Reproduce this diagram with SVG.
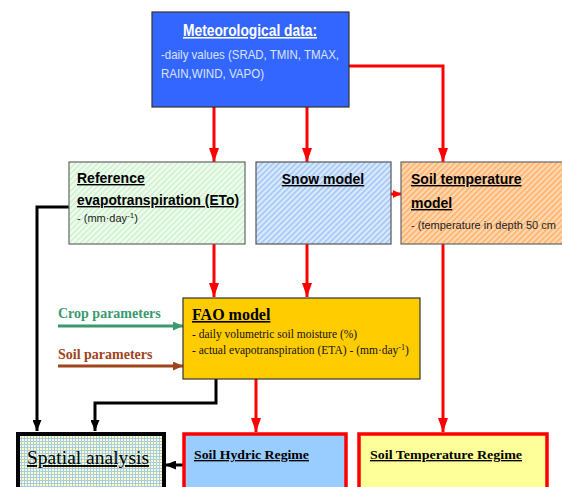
<svg xmlns="http://www.w3.org/2000/svg" width="562" height="487" viewBox="0 0 562 487">
<style>
.sans{font-family:"Liberation Sans",Arial,sans-serif}
.serif{font-family:"Liberation Serif","Times New Roman",serif}
.ttl{font-weight:bold;font-size:14px;text-decoration:underline;fill:#000}
.sub{font-size:11px;fill:#222}
.red{stroke:#ff0000;stroke-width:3;fill:none}
.blk{stroke:#000;stroke-width:3;fill:none}
</style>
<defs>
<pattern id="hG" width="4" height="4" patternUnits="userSpaceOnUse" patternTransform="rotate(45)">
<rect width="4" height="4" fill="#eefded"/><rect width="1.3" height="4" fill="#c9efc9"/>
</pattern>
<pattern id="hB" width="4" height="4" patternUnits="userSpaceOnUse" patternTransform="rotate(45)">
<rect width="4" height="4" fill="#d9e9ff"/><rect width="1.5" height="4" fill="#9fc3f3"/>
</pattern>
<pattern id="hO" width="4" height="4" patternUnits="userSpaceOnUse" patternTransform="rotate(45)">
<rect width="4" height="4" fill="#ffd8ae"/><rect width="1.5" height="4" fill="#ffae6a"/>
</pattern>
<pattern id="grid" width="3" height="3" patternUnits="userSpaceOnUse">
<rect width="3" height="3" fill="#ffffc8"/><path d="M0 0.5H3M0.5 0V3" stroke="#a8cce8" stroke-width="1"/>
</pattern>
<marker id="mR" viewBox="0 0 14 10" refX="14" refY="5" markerWidth="14" markerHeight="10" markerUnits="userSpaceOnUse" orient="auto">
<path d="M0 0L14 5L0 10z" fill="#ff0000"/>
</marker>
<marker id="mRs" viewBox="0 0 8 8" refX="8" refY="4" markerWidth="8" markerHeight="8" markerUnits="userSpaceOnUse" orient="auto">
<path d="M0 0L8 4L0 8z" fill="#ff0000"/>
</marker>
<marker id="mK" viewBox="0 0 11 9" refX="11" refY="4.5" markerWidth="11" markerHeight="9" markerUnits="userSpaceOnUse" orient="auto">
<path d="M0 0L11 4.5L0 9z" fill="#000"/>
</marker>
<marker id="mG" viewBox="0 0 10 9" refX="10" refY="4.5" markerWidth="10" markerHeight="9" markerUnits="userSpaceOnUse" orient="auto">
<path d="M0 0L10 4.5L0 9z" fill="#3a9a6e"/>
</marker>
<marker id="mBr" viewBox="0 0 10 9" refX="10" refY="4.5" markerWidth="10" markerHeight="9" markerUnits="userSpaceOnUse" orient="auto">
<path d="M0 0L10 4.5L0 9z" fill="#a0441c"/>
</marker>
</defs>

<g id="connectors">
<path class="red" d="M214 107V162" marker-end="url(#mR)"/>
<path class="red" d="M307 107V162" marker-end="url(#mR)"/>
<path class="red" d="M349 66H443V162" marker-end="url(#mR)"/>
<path class="red" d="M391 194H401" marker-end="url(#mRs)"/>
<path class="red" d="M214 244V297" marker-end="url(#mR)"/>
<path class="red" d="M307 244V297" marker-end="url(#mR)"/>
<path class="red" d="M256 379V432" marker-end="url(#mR)"/>
<path class="red" d="M443 244V432" marker-end="url(#mR)"/>
<path class="blk" d="M69 207H37V431" marker-end="url(#mK)"/>
<path class="blk" d="M216 379V403H95V431" marker-end="url(#mK)"/>
<path class="blk" d="M183 465H165" marker-end="url(#mK)"/>
<path d="M58 326H183" stroke="#3a9a6e" stroke-width="3" fill="none" marker-end="url(#mG)"/>
<path d="M58 366H183" stroke="#a0441c" stroke-width="3" fill="none" marker-end="url(#mBr)"/>
</g>

<g id="meteo">
<rect x="152" y="12" width="197" height="95" fill="#3366ff" stroke="#333" stroke-width="1.2"/>
<text x="250" y="36" text-anchor="middle" class="sans" font-weight="bold" font-size="16" fill="#fff" text-decoration="underline" textLength="134" lengthAdjust="spacingAndGlyphs">Meteorological data:</text>
<text x="161" y="59" class="sans" font-size="13.5" fill="#dbe4ff" textLength="178" lengthAdjust="spacingAndGlyphs">-daily values (SRAD, TMIN, TMAX,</text>
<text x="161" y="78" class="sans" font-size="13.5" fill="#dbe4ff" textLength="103" lengthAdjust="spacingAndGlyphs">RAIN,WIND, VAPO)</text>
</g>

<g id="eto">
<rect x="69" y="162" width="176" height="82" fill="url(#hG)" stroke="#666" stroke-width="1.2"/>
<text x="77" y="183" class="sans ttl">Reference</text>
<text x="77" y="205" class="sans ttl" textLength="162" lengthAdjust="spacingAndGlyphs">evapotranspiration (ETo)</text>
<text x="77" y="222" class="sans sub">- (mm·day<tspan dy="-4" font-size="8">-1</tspan><tspan dy="4">)</tspan></text>
</g>

<g id="snow">
<rect x="256" y="162" width="135" height="82" fill="url(#hB)" stroke="#555" stroke-width="1.2"/>
<text x="323" y="184" text-anchor="middle" class="sans ttl">Snow model</text>
</g>

<g id="soiltemp">
<rect x="401" y="162" width="170" height="82" fill="url(#hO)" stroke="#666" stroke-width="1.2"/>
<text x="411" y="184" class="sans ttl">Soil temperature</text>
<text x="411" y="208" class="sans ttl">model</text>
<text x="411" y="229" class="sans sub" font-size="11.5">- (temperature in depth 50 cm</text>
</g>

<g id="fao">
<rect x="183" y="298" width="237" height="81" fill="#ffcc00" stroke="#333" stroke-width="1.2"/>
<text x="192" y="320" class="serif" font-weight="bold" font-size="16" text-decoration="underline">FAO model</text>
<text x="192" y="338" class="serif" font-size="11.5" fill="#111">- daily volumetric soil moisture (%)</text>
<text x="192" y="354" class="serif" font-size="11.5" fill="#111">- actual evapotranspiration (ETA) - (mm·day<tspan dy="-4" font-size="8">-1</tspan><tspan dy="4">)</tspan></text>
</g>

<g id="crop">
<text x="58" y="318" class="serif" font-weight="bold" font-size="14" fill="#3a9a6e">Crop parameters</text>
</g>
<g id="soilpar">
<text x="58" y="359" class="serif" font-weight="bold" font-size="14" fill="#a0441c">Soil parameters</text>
</g>

<g id="spatial">
<rect x="18" y="434" width="146" height="60" fill="url(#grid)" stroke="#000" stroke-width="4"/>
<text x="27" y="464" class="serif" font-size="19" text-decoration="underline" textLength="122" lengthAdjust="spacingAndGlyphs">Spatial analysis</text>
</g>

<g id="hydric">
<rect x="184" y="434" width="162" height="60" fill="#99ccff" stroke="#ff0000" stroke-width="3.5"/>
<text x="194" y="459" class="serif" font-weight="bold" font-size="13.5" text-decoration="underline" textLength="115" lengthAdjust="spacingAndGlyphs">Soil Hydric Regime</text>
</g>

<g id="tempregime">
<rect x="359" y="434" width="188" height="60" fill="#ffff99" stroke="#ff0000" stroke-width="3.5"/>
<text x="370" y="459" class="serif" font-weight="bold" font-size="13.5" text-decoration="underline" textLength="152" lengthAdjust="spacingAndGlyphs">Soil Temperature Regime</text>
</g>
</svg>
